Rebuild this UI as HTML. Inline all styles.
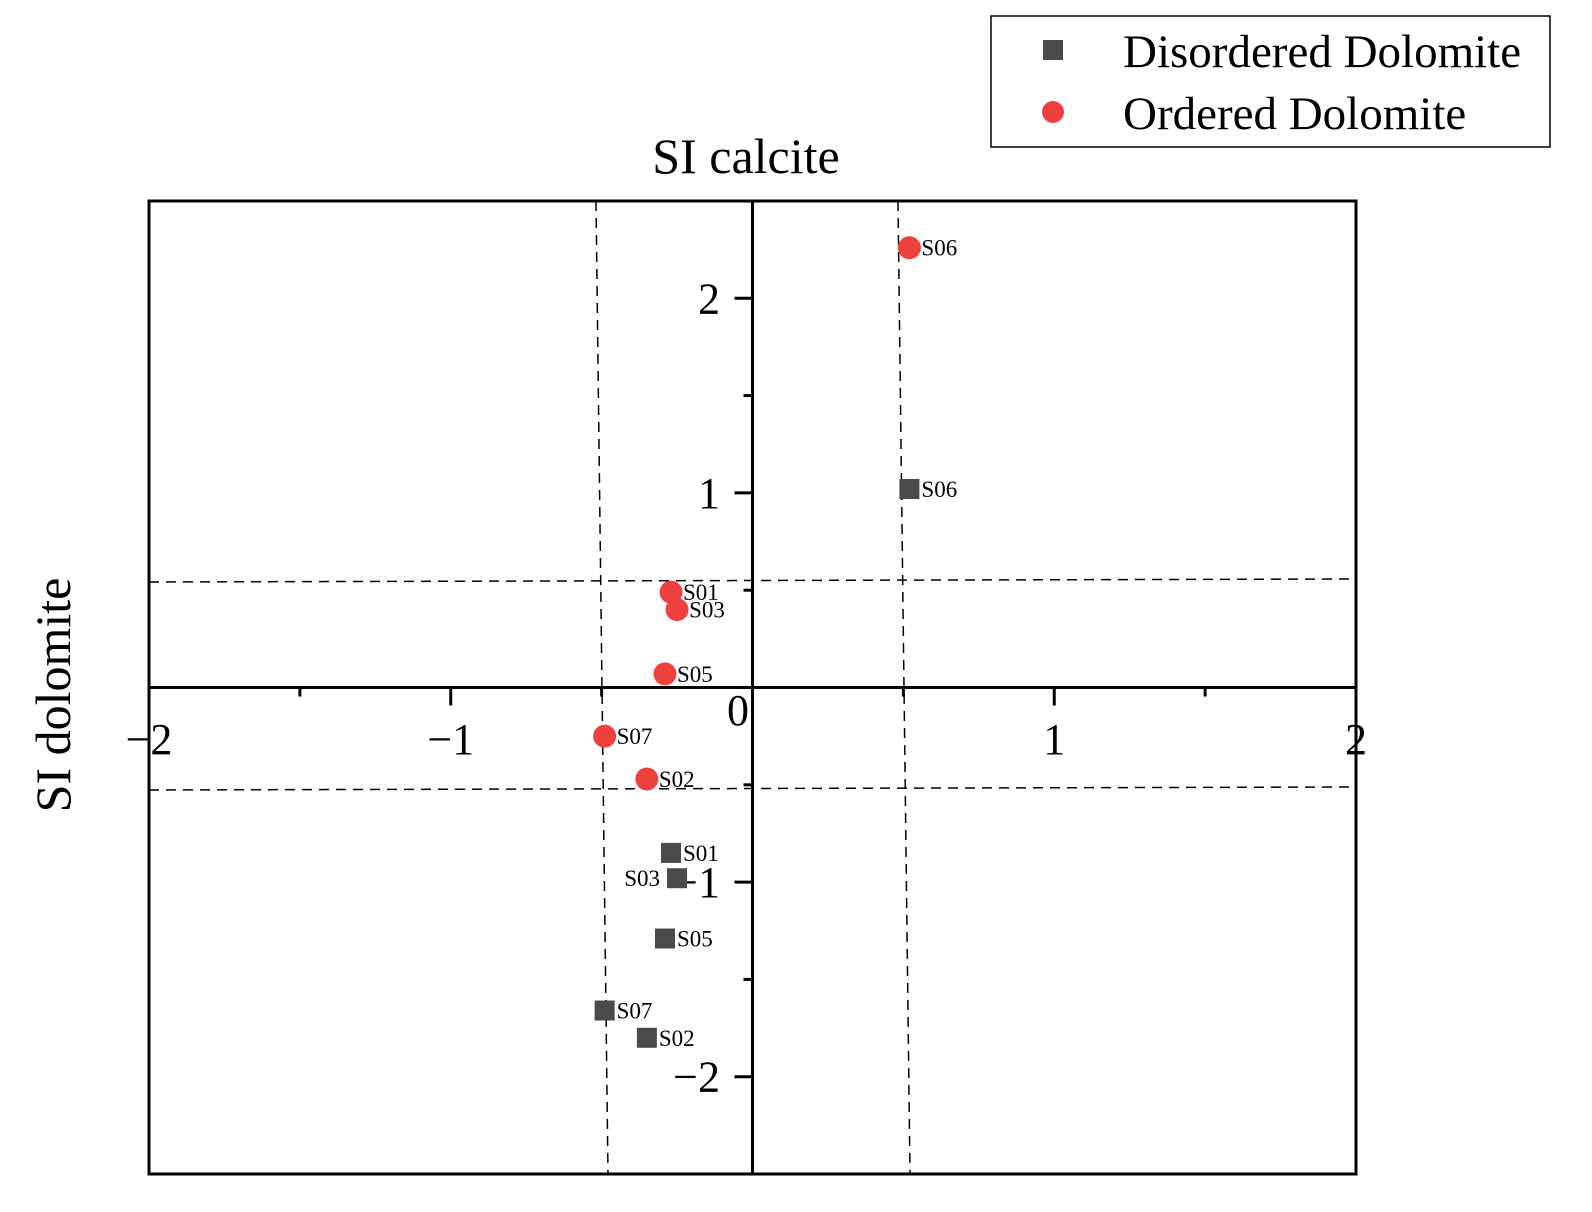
<!DOCTYPE html>
<html><head><meta charset="utf-8"><style>
html,body{margin:0;padding:0;background:#fff;}
svg{display:block;font-family:"Liberation Serif",serif;}
</style></head><body>
<svg id="chart" width="1592" height="1212" viewBox="0 0 1592 1212">
<rect x="0" y="0" width="1592" height="1212" fill="#fff"/>
<text x="746" y="173" font-size="50" text-anchor="middle">SI calcite</text>
<text transform="translate(70,695) rotate(-90)" font-size="50" text-anchor="middle">SI dolomite</text>
<rect x="149" y="201" width="1207" height="973" fill="none" stroke="#000" stroke-width="3"/>
<g id="dashes"></g>
<g id="axes"></g>
<g id="marks"></g>
<g>
<rect x="991" y="16" width="559" height="131" fill="#fff" stroke="#000" stroke-width="1.5"/>
<rect x="1043" y="40" width="20" height="20" fill="#4a4a4a"/>
<text x="1123" y="67" font-size="47">Disordered Dolomite</text>
<circle cx="1053" cy="112" r="11" fill="#ef4040"/>
<text x="1123" y="129" font-size="47">Ordered Dolomite</text>
</g>
</svg>
<script>
const labels = ["S06","S01","S03","S05","S07","S02"];
const orderedX = [0.52,-0.27,-0.25,-0.29,-0.49,-0.35];
const orderedY = [2.26,0.49,0.40,0.07,-0.25,-0.47];
const disorderedX = [0.52,-0.27,-0.25,-0.29,-0.49,-0.35];
const disorderedY = [1.02,-0.85,-0.98,-1.29,-1.66,-1.80];
const xTicks = [-2,-1,1,2];
const yTicks = [-2,-1,1,2];
const xMinor = [-1.5,-0.5,0.5,1.5];
const yMinor = [-1.5,-0.5,0.5,1.5];

const NS="http://www.w3.org/2000/svg";
const X0=149,X1=1356,Y0=1174,Y1=201;
const sx=v=>X0+(v+2)/4*(X1-X0);
const sy=v=>Y0-(v+2.5)/5*(Y0-Y1);
function mk(tag,attrs,parent){const e=document.createElementNS(NS,tag);for(const k in attrs)e.setAttribute(k,attrs[k]);parent.appendChild(e);return e;}
const dashes=document.getElementById('dashes');
const axes=document.getElementById('axes');
const marks=document.getElementById('marks');
const dl=[[596,201,608,1174],[898,201,910,1174],[149,582,1356,579],[149,790,1356,787]];
dl.forEach(d=>{const l=mk('line',{x1:d[0],y1:d[1],x2:d[2],y2:d[3],stroke:'#000','stroke-width':1.5,'stroke-dasharray':'10,7'},dashes);

});
const ax=mk('line',{x1:X0,y1:sy(0),x2:X1,y2:sy(0),stroke:'#000','stroke-width':3},axes);


const ay=mk('line',{x1:sx(0),y1:Y1,x2:sx(0),y2:Y0,stroke:'#000','stroke-width':3},axes);


xTicks.forEach(v=>{const t=mk('line',{x1:sx(v),y1:sy(0),x2:sx(v),y2:sy(0)+18,stroke:'#000','stroke-width':3},axes);


const tx=mk('text',{x:sx(v),y:754,'font-size':44,'text-anchor':'middle'},axes);tx.textContent=v<0?'\u2212'+(-v):String(v);

});
xMinor.forEach(v=>{const t=mk('line',{x1:sx(v),y1:sy(0),x2:sx(v),y2:sy(0)+9,stroke:'#000','stroke-width':3},axes);

});
yTicks.forEach(v=>{const t=mk('line',{x1:sx(0),y1:sy(v),x2:sx(0)-18,y2:sy(v),stroke:'#000','stroke-width':3},axes);


const tx=mk('text',{x:720,y:sy(v)+15,'font-size':44,'text-anchor':'end'},axes);tx.textContent=v<0?'\u2212'+(-v):String(v);

});
yMinor.forEach(v=>{const t=mk('line',{x1:sx(0),y1:sy(v),x2:sx(0)-9,y2:sy(v),stroke:'#000','stroke-width':3},axes);

});
const z=mk('text',{x:738,y:725,'font-size':44,'text-anchor':'middle'},axes);z.textContent='0';


labels.forEach((lb,i)=>{
 const cx=sx(disorderedX[i]),cy=sy(disorderedY[i]);
 const r=mk('rect',{x:cx-10,y:cy-10,width:20,height:20,fill:'#4a4a4a'},marks);
 
 
 const left=(lb==='S03');
 const t=mk('text',{x:left?cx-17:cx+12,y:cy+8,'font-size':23,'text-anchor':left?'end':'start'},marks);t.textContent=lb;
 
 
});
labels.forEach((lb,i)=>{
 const cx=sx(orderedX[i]),cy=sy(orderedY[i]);
 const c=mk('circle',{cx:cx,cy:cy,r:11.5,fill:'#ef4040'},marks);
 
 
 const t=mk('text',{x:cx+12,y:cy+8,'font-size':23},marks);t.textContent=lb;
 
 
});
</script>
</body></html>
